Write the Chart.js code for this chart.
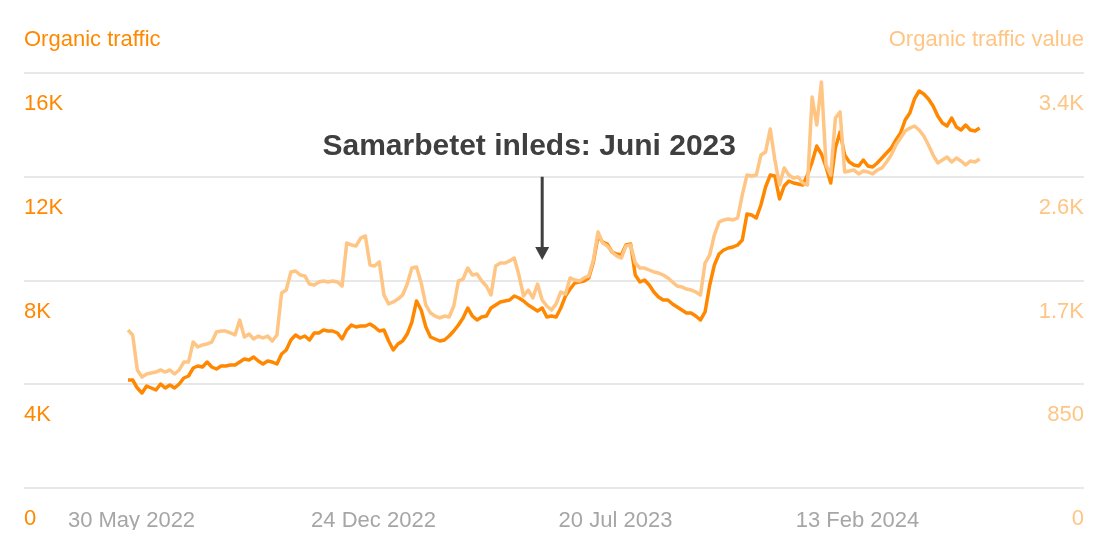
<!DOCTYPE html>
<html><head><meta charset="utf-8">
<script src="https://cdn.jsdelivr.net/npm/chart.js@4"></script>
<style>html,body{margin:0;padding:0;background:#fff}#c{display:block}</style>
</head><body><canvas id="c" width="1112" height="550" style="width:1112px;height:550px"></canvas>
<script>
// Day 0 = 27 May 2022, one sample every 4 days
const stepDays = 4;
const traffic = [
4164,4164,3855,3663,3933,3855,3778,4010,3855,3971,
3855,4010,4241,4318,4626,4704,4665,4858,4665,4588,
4704,4704,4742,4742,4858,4973,4935,5051,4896,4781,
4896,4858,4781,5166,5320,5706,5899,5783,5860,5706,
5976,5976,6092,6053,6053,5976,5745,6092,6284,6207,
6246,6246,6323,6207,6053,6092,5667,5320,5552,5667,
5937,6400,7210,6863,6207,5822,5745,5667,5706,5860,
6053,6284,6554,6940,6631,6477,6593,6631,6940,7055,
7171,7210,7248,7402,7325,7210,7055,6940,6824,6940,
6593,6631,6593,6940,7402,7672,7904,7942,7981,8096,
8713,9716,9484,9407,9099,9022,8983,9369,9407,8212,
7942,8019,7826,7557,7364,7248,7248,7094,6978,6863,
6747,6747,6631,6477,6786,7826,8598,9022,9176,9253,
9292,9369,9561,10564,10525,10410,10911,11605,12067,12029,
11142,11643,11836,11759,11720,11682,12067,12569,13185,12877,
12376,11759,13108,13725,12838,12569,12453,12414,12646,12414,
12376,12530,12723,12916,13108,13417,13687,14188,14458,14998,
15306,15190,14998,14728,14342,14072,13957,14265,13918,13802,
13995,13802,13764,13879
];
const trafficValue = [
1294,1254,967,909,934,942,950,967,950,967,
934,967,1032,1032,1196,1155,1172,1180,1196,1278,
1286,1286,1270,1254,1376,1237,1262,1221,1245,1229,
1245,1204,1254,1598,1622,1770,1778,1745,1737,1671,
1663,1688,1696,1688,1696,1688,1655,2007,1991,1983,
2048,2065,1827,1819,1852,1581,1508,1524,1548,1581,
1671,1802,1811,1680,1499,1434,1409,1393,1409,1401,
1491,1696,1712,1802,1745,1753,1696,1655,1581,1819,
1843,1843,1860,1884,1745,1573,1622,1557,1671,1540,
1491,1458,1508,1606,1589,1721,1704,1696,1721,1737,
1868,2097,2007,1983,1934,1901,1884,1983,1991,1843,
1802,1802,1786,1770,1761,1745,1721,1688,1655,1647,
1630,1622,1606,1581,1843,1909,2073,2179,2196,2204,
2196,2212,2401,2564,2556,2564,2728,2753,2941,2687,
2482,2622,2564,2540,2548,2499,2482,3203,2974,3326,
2646,2564,3031,3081,2589,2597,2605,2573,2597,2589,
2573,2605,2622,2671,2728,2810,2868,2925,2949,2966,
2933,2884,2810,2728,2663,2687,2712,2671,2704,2679,
2646,2679,2671,2696
];
const xTickDays = [3, 211, 419, 627];
const xTickLabels = ['30 May 2022', '24 Dec 2022', '20 Jul 2023', '13 Feb 2024'];
const leftTickValues = [0, 4000, 8000, 12000, 16000];
const leftTickLabels = ['0', '4K', '8K', '12K', '16K'];
const rightTickValues = [0, 850, 1700, 2550, 3400];
const rightTickLabels = ['0', '850', '1.7K', '2.6K', '3.4K'];
const leftTitle = 'Organic traffic';
const rightTitle = 'Organic traffic value';
const annotationText = 'Samarbetet inleds: Juni 2023';
const annotationDay = 356;
const annotationFrom = 12000;
const annotationTo = 8790;

const DARK = '#ff8800';
const LIGHT = '#ffc584';
const FONT = '"Liberation Sans", Arial, Helvetica, sans-serif';

const trafficPts = traffic.map((v, i) => ({x: i * stepDays, y: v}));
const valuePts = trafficValue.map((v, i) => ({x: i * stepDays, y: v}));

const overlay = {
  id: 'overlay',
  afterDraw(chart) {
    const {ctx, chartArea: a, scales} = chart;
    ctx.save();
    ctx.font = '22px ' + FONT;
    ctx.textBaseline = 'middle';
    ctx.fillStyle = DARK; ctx.textAlign = 'left';
    ctx.fillText(leftTitle, a.left, 40);
    ctx.fillStyle = LIGHT; ctx.textAlign = 'right';
    ctx.fillText(rightTitle, a.right, 40);
    const x = scales.x.getPixelForValue(annotationDay);
    const y0 = scales.y.getPixelForValue(annotationFrom);
    const y1 = scales.y.getPixelForValue(annotationTo);
    ctx.strokeStyle = '#3f3f3f'; ctx.lineWidth = 3;
    ctx.beginPath(); ctx.moveTo(x, y0); ctx.lineTo(x, y1 - 10); ctx.stroke();
    ctx.fillStyle = '#3f3f3f';
    ctx.beginPath(); ctx.moveTo(x - 7, y1 - 13); ctx.lineTo(x + 7, y1 - 13); ctx.lineTo(x, y1); ctx.closePath(); ctx.fill();
    ctx.font = 'bold 30px ' + FONT;
    ctx.textAlign = 'center'; ctx.textBaseline = 'alphabetic';
    ctx.fillText(annotationText, x - 13, y0 - 22);
    ctx.restore();
  }
};

new Chart(document.getElementById('c'), {
  type: 'line',
  data: {
    datasets: [
      {label: rightTitle, data: valuePts, yAxisID: 'y2', borderColor: LIGHT, borderWidth: 3.5, pointRadius: 0, tension: 0, borderJoinStyle: 'round', order: 0},
      {label: leftTitle, data: trafficPts, yAxisID: 'y', borderColor: DARK, borderWidth: 3.5, pointRadius: 0, tension: 0, borderJoinStyle: 'round', order: 1}
    ]
  },
  options: {
    responsive: false,
    animation: false,
    devicePixelRatio: 1,
    layout: {padding: {left: 24, right: 28, top: 73, bottom: 20}},
    plugins: {legend: {display: false}, tooltip: {enabled: false}, title: {display: false}},
    scales: {
      x: {
        type: 'linear', min: -89.4, max: 821.7,
        grid: {display: false, drawTicks: false}, border: {display: false},
        afterBuildTicks: s => { s.ticks = xTickDays.map(v => ({value: v})); },
        afterFit: s => { s.height = 42; },
        ticks: {
          autoSkip: false, maxRotation: 0, padding: 20, color: '#a6a6a6',
          font: {size: 22, family: FONT},
          callback: v => xTickLabels[xTickDays.indexOf(v)]
        }
      },
      y: {
        position: 'left', min: 0, max: 16000,
        grid: {color: '#e8e8e8', lineWidth: 2, drawTicks: false}, border: {display: false},
        afterBuildTicks: s => { s.ticks = leftTickValues.map(v => ({value: v})); },
        ticks: {
          mirror: true, padding: 0, labelOffset: 31, color: DARK,
          font: {size: 22, family: FONT},
          callback: v => leftTickLabels[leftTickValues.indexOf(v)]
        }
      },
      y2: {
        position: 'right', min: 0, max: 3400,
        grid: {display: false, drawTicks: false}, border: {display: false},
        afterBuildTicks: s => { s.ticks = rightTickValues.map(v => ({value: v})); },
        ticks: {
          mirror: true, padding: 0, labelOffset: 31, color: LIGHT,
          font: {size: 22, family: FONT},
          callback: v => rightTickLabels[rightTickValues.indexOf(v)]
        }
      }
    }
  },
  plugins: [overlay]
});
</script>
</body></html>
